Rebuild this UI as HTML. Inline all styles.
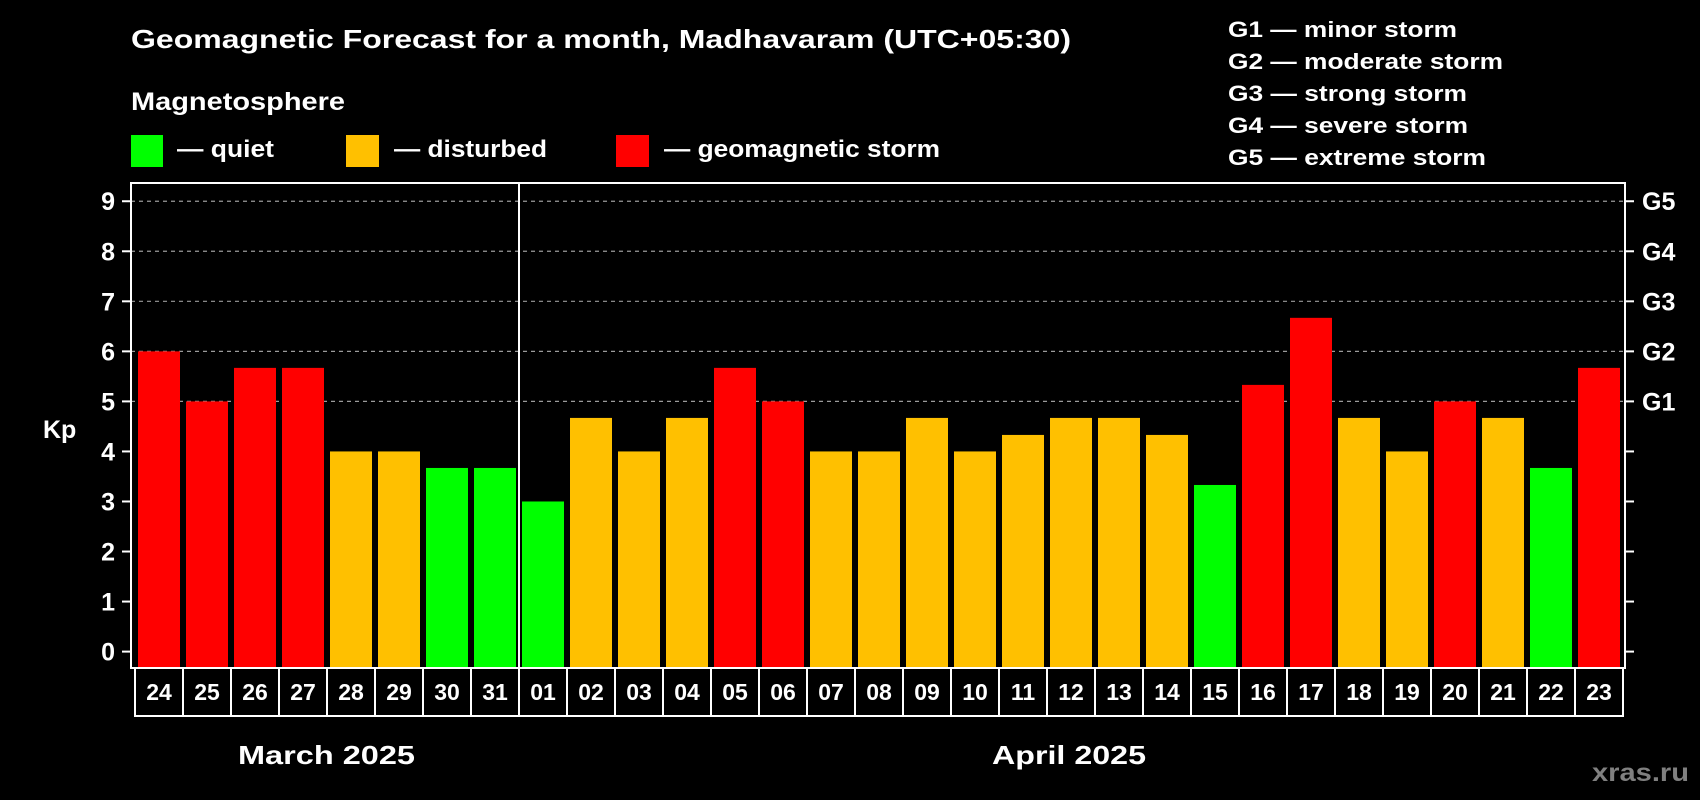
<!DOCTYPE html>
<html><head><meta charset="utf-8"><style>
html,body{margin:0;padding:0;background:#000;}
svg{display:block;font-family:"Liberation Sans",Arial,sans-serif;font-weight:bold;}
</style></head><body>
<svg id="chart" width="1700" height="800" viewBox="0 0 1700 800" xmlns="http://www.w3.org/2000/svg">
<rect x="0" y="0" width="1700" height="800" fill="#000"/>
<text x="131" y="48" font-size="26" fill="#fff" textLength="940" lengthAdjust="spacingAndGlyphs">Geomagnetic Forecast for a month, Madhavaram (UTC+05:30)</text>
<text x="131" y="110" font-size="25" fill="#fff" textLength="214" lengthAdjust="spacingAndGlyphs">Magnetosphere</text>
<g>
<rect x="131" y="135" width="32" height="32" fill="#00ff00"/>
<text x="177" y="157" font-size="24" fill="#fff" textLength="97" lengthAdjust="spacingAndGlyphs">— quiet</text></g>
<g>
<rect x="346" y="135" width="33" height="32" fill="#ffc000"/>
<text x="394" y="157" font-size="24" fill="#fff" textLength="153" lengthAdjust="spacingAndGlyphs">— disturbed</text></g>
<g>
<rect x="616" y="135" width="33" height="32" fill="#ff0000"/>
<text x="664" y="157" font-size="24" fill="#fff" textLength="276" lengthAdjust="spacingAndGlyphs">— geomagnetic storm</text></g>
<g font-size="22" fill="#fff">
<text x="1228" y="37" textLength="229" lengthAdjust="spacingAndGlyphs">G1 — minor storm</text>
<text x="1228" y="69" textLength="275" lengthAdjust="spacingAndGlyphs">G2 — moderate storm</text>
<text x="1228" y="101" textLength="239" lengthAdjust="spacingAndGlyphs">G3 — strong storm</text>
<text x="1228" y="133" textLength="240" lengthAdjust="spacingAndGlyphs">G4 — severe storm</text>
<text x="1228" y="165" textLength="258" lengthAdjust="spacingAndGlyphs">G5 — extreme storm</text>
</g>
<g id="grid"></g>
<g id="bars"></g>
<g id="axes"></g>
<text x="43" y="438" font-size="25" fill="#fff">Kp</text>
<text x="238" y="764" font-size="26" fill="#fff" textLength="177" lengthAdjust="spacingAndGlyphs">March 2025</text>
<text x="992" y="764" font-size="26" fill="#fff" textLength="154" lengthAdjust="spacingAndGlyphs">April 2025</text>
<text x="1592" y="781" font-size="25" fill="#808080" textLength="97" lengthAdjust="spacingAndGlyphs">xras.ru</text>
</svg>
<script>
const days = ["24","25","26","27","28","29","30","31","01","02","03","04","05","06","07","08","09","10","11","12","13","14","15","16","17","18","19","20","21","22","23"];
const kpValues = [6,5,5.67,5.67,4,4,3.67,3.67,3,4.67,4,4.67,5.67,5,4,4,4.67,4,4.33,4.67,4.67,4.33,3.33,5.33,6.67,4.67,4,5,4.67,3.67,5.67];
const yTicks = [0,1,2,3,4,5,6,7,8,9];
const gLabels = ["G1","G2","G3","G4","G5"];
const gLevels = [5,6,7,8,9];
const monthBreakIndex = 8;

const NS = "http://www.w3.org/2000/svg";
const plotL = 131, plotR = 1625, plotT = 183, plotB = 668;
const y0 = 651.6, unit = 50.04;
const slot = 48, barStart = 138, barW = 42;
function yScale(v){ return y0 - v*unit; }
function xScale(i){ return barStart + i*slot; }
function mk(tag, attrs, parent){ const e=document.createElementNS(NS,tag); for(const k in attrs) e.setAttribute(k,attrs[k]); parent.appendChild(e); return e; }
function color(v){ return v>=5 ? "#ff0000" : (v>=4 ? "#ffc000" : "#00ff00"); }

const grid = document.getElementById("grid");
gLevels.forEach(g=>{
  const l = mk("line",{x1:plotL,x2:plotR,y1:yScale(g),y2:yScale(g),stroke:"#9a9a9a","stroke-width":1.2,"stroke-dasharray":"4,4"},grid);
  
  
});

const bars = document.getElementById("bars");
kpValues.forEach((v,i)=>{
  const r = mk("rect",{x:xScale(i),y:yScale(v),width:barW,height:plotB-yScale(v),fill:color(v)},bars);
  
  
});

const axes = document.getElementById("axes");
const frame = mk("rect",{x:plotL,y:plotT,width:plotR-plotL,height:plotB-plotT,fill:"none",stroke:"#fff","stroke-width":2},axes);


const sepX = xScale(monthBreakIndex) - (slot-barW)/2;
const sep = mk("line",{x1:sepX,x2:sepX,y1:plotT,y2:plotB,stroke:"#fff","stroke-width":2},axes);



yTicks.forEach(t=>{
  const y = yScale(t);
  const tl = mk("line",{x1:122,x2:plotL,y1:y,y2:y,stroke:"#fff","stroke-width":2},axes);
  
  
  const tr = mk("line",{x1:plotR,x2:plotR+9,y1:y,y2:y,stroke:"#fff","stroke-width":2},axes);
  
  
  const tx = mk("text",{x:115,y:y+9,"font-size":25,fill:"#fff","text-anchor":"end"},axes);
  tx.textContent = String(t);
  
  
});
gLevels.forEach((g,k)=>{
  const tx = mk("text",{x:1642,y:yScale(g)+9,"font-size":25,fill:"#fff"},axes);
  tx.textContent = gLabels[k];
  
  
});

const boxL = 135, boxT = 668, boxB = 716;
days.forEach((d,i)=>{
  const bx = boxL + i*slot;
  const w = (i===days.length-1) ? (plotR-2-bx) : slot;
  const r = mk("rect",{x:bx,y:boxT,width:w,height:boxB-boxT,fill:"#000",stroke:"#fff","stroke-width":2},axes);
  
  
  const t = mk("text",{x:xScale(i)+barW/2,y:700,"font-size":23,fill:"#fff","text-anchor":"middle"},axes);
  t.textContent = d;
  
  
});
</script>
</body></html>
